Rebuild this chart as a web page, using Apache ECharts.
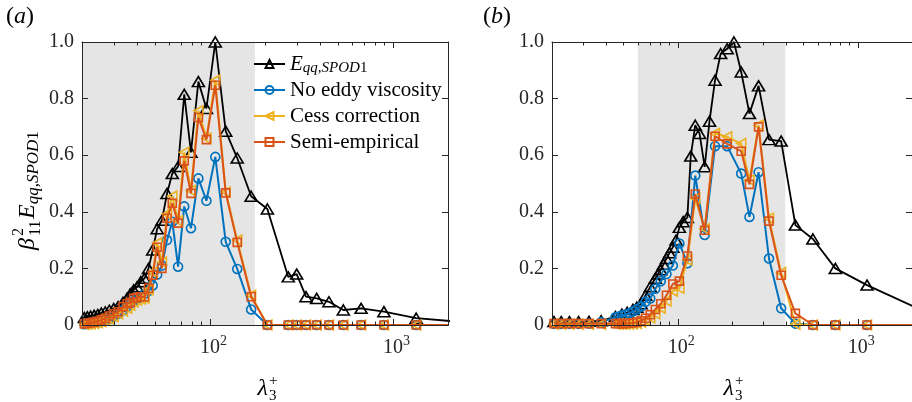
<!DOCTYPE html>
<html><head><meta charset="utf-8">
<script src="https://cdn.jsdelivr.net/npm/echarts@6/dist/echarts.min.js"></script>
<style>html,body{margin:0;padding:0;background:#fff}#c{width:912px;height:402px}</style>
</head><body><div id="c"></div>
<script>
// ---------------- data ----------------
// panel (a): wavelengths and values (all series share the same wavelengths)
const lamA = [2680, 1340, 893, 670, 536, 447, 383, 335, 298, 268, 206, 168, 141, 122, 107, 95.7, 86.5, 78.8, 72.4, 67.0, 62.3, 58.3, 54.7, 51.5, 48.7, 46.2, 43.9, 41.9, 40.0, 38.3, 36.7, 35.3, 33.5, 31.5, 29.8, 28.2, 26.8, 25.5, 24.4, 23.3, 22.3, 21.4, 20.6];
const eqqA = [0.008, 0.024, 0.047, 0.059, 0.053, 0.082, 0.094, 0.100, 0.180, 0.170, 0.410, 0.455, 0.590, 0.685, 1.000, 0.765, 0.860, 0.610, 0.815, 0.560, 0.535, 0.465, 0.370, 0.340, 0.265, 0.200, 0.165, 0.153, 0.135, 0.124, 0.110, 0.095, 0.080, 0.065, 0.058, 0.052, 0.046, 0.042, 0.037, 0.034, 0.031, 0.029, 0.026];
const noEddyA = [0, 0, 0, 0, 0, 0, 0, 0, 0, 0, 0, 0.055, 0.198, 0.294, 0.594, 0.439, 0.518, 0.342, 0.419, 0.206, 0.365, 0.300, 0.210, 0.178, 0.140, 0.120, 0.110, 0.100, 0.093, 0.085, 0.075, 0.065, 0.052, 0.040, 0.030, 0.022, 0.016, 0.012, 0.009, 0.007, 0.005, 0.004, 0.003];
const cessA = [0, 0, 0, 0, 0, 0, 0, 0, 0, 0, 0, 0.105, 0.300, 0.470, 0.865, 0.660, 0.757, 0.475, 0.610, 0.368, 0.455, 0.392, 0.222, 0.290, 0.187, 0.125, 0.095, 0.092, 0.088, 0.082, 0.070, 0.060, 0.050, 0.040, 0.030, 0.022, 0.016, 0.012, 0.008, 0.006, 0.004, 0.003, 0.002];
const semiA = [0, 0, 0, 0, 0, 0, 0, 0, 0, 0, 0, 0.100, 0.292, 0.467, 0.847, 0.655, 0.733, 0.465, 0.580, 0.360, 0.430, 0.377, 0.200, 0.275, 0.176, 0.130, 0.100, 0.100, 0.097, 0.094, 0.080, 0.075, 0.065, 0.047, 0.040, 0.032, 0.024, 0.018, 0.013, 0.010, 0.008, 0.006, 0.004];

// panel (b): SPOD wavelengths / values
const lamBk = [2250, 1125, 750, 563, 450, 375, 321, 281, 250, 225, 205, 188, 173, 161, 150, 141, 132, 125, 118, 113, 107, 102, 97.8, 93.8, 90.0, 86.5, 83.3, 80.4, 77.6, 75.0, 70.3, 66.2, 62.5, 59.2, 56.3, 52.3, 48.9, 45.0, 37.5, 32.1, 28.1, 25.0, 22.5, 20.5];
const eqqB = [0.053, 0.141, 0.200, 0.304, 0.353, 0.650, 0.655, 0.845, 0.747, 0.894, 1.000, 0.976, 0.959, 0.865, 0.720, 0.559, 0.677, 0.706, 0.597, 0.380, 0.365, 0.345, 0.300, 0.275, 0.255, 0.235, 0.215, 0.195, 0.180, 0.165, 0.135, 0.105, 0.075, 0.063, 0.055, 0.045, 0.038, 0.030, 0.015, 0.013, 0.012, 0.012, 0.012, 0.012];
// panel (b): model wavelengths / values
const lamBc = [2250, 1125, 750, 563, 450, 375, 321, 281, 250, 225, 188, 161, 141, 125, 113, 102, 93.8, 86.5, 80.4, 75.0, 70.3, 66.2, 62.5, 59.2, 56.3, 53.6, 51.1, 48.9, 46.9, 45.0, 37.5, 32.1, 28.1, 25.0, 22.5, 20.5];
const noEddyB = [0, 0, 0, 0, 0.005, 0.059, 0.235, 0.540, 0.382, 0.535, 0.632, 0.632, 0.318, 0.528, 0.218, 0.288, 0.210, 0.180, 0.155, 0.128, 0.094, 0.082, 0.065, 0.056, 0.048, 0.041, 0.037, 0.034, 0.030, 0.027, 0.010, 0.005, 0.004, 0.004, 0.004, 0.004];
const cessB = [0, 0, 0, 0, 0.003, 0.185, 0.377, 0.706, 0.512, 0.641, 0.665, 0.677, 0.340, 0.447, 0.230, 0.130, 0.120, 0.085, 0.060, 0.040, 0.026, 0.016, 0.010, 0.006, 0.004, 0.003, 0.003, 0.003, 0.003, 0.003, 0.003, 0.003, 0.003, 0.003, 0.003, 0.003];
const semiB = [0, 0, 0, 0, 0.041, 0.176, 0.367, 0.700, 0.497, 0.614, 0.640, 0.667, 0.335, 0.463, 0.244, 0.155, 0.145, 0.105, 0.075, 0.055, 0.036, 0.024, 0.015, 0.010, 0.007, 0.006, 0.005, 0.005, 0.005, 0.005, 0.005, 0.005, 0.005, 0.005, 0.005, 0.005];

// shaded ranges, axis ranges, ticks, names
const shadeA = [20, 176];
const shadeB = [60, 395];
const xRange = [20, 2000];
const yRange = [0, 1];
const yStep = 0.2;
const yTicks = [0, 0.2, 0.4, 0.6, 0.8, 1.0];
const yTickLabels = ['0', '0.2', '0.4', '0.6', '0.8', '1.0'];
const xMajor = [100, 1000];
const xMajorExp = ['2', '3'];
const xMinor = [20, 30, 40, 50, 60, 70, 80, 90, 200, 300, 400, 500, 600, 700, 800, 900, 2000];
const names = ['Eqq', 'No eddy viscosity', 'Cess correction', 'Semi-empirical'];

// ---------------- chart ----------------
const FONT = 'Liberation Serif';
const AX = '#262626';
const C = { k: '#000000', b: '#0072BD', y: '#EDB120', o: '#D95319' };
const zip = (xs, ys) => xs.map((x, i) => [x, ys[i]]);

const grids = [
  { left: 82, top: 42, width: 366, height: 283 },
  { left: 82, top: 42, width: 366, height: 283 },
  { left: 552, top: 42, width: 366, height: 283 },
  { left: 552, top: 42, width: 366, height: 283 }
];

function xAx(grid, pos, ticks, len, line) {
  return {
    type: 'log', logBase: 10, gridIndex: grid, min: xRange[0], max: xRange[1], position: pos, z: 10,
    axisLine: { show: line, onZero: false, lineStyle: { color: AX, width: 1 } },
    axisTick: { show: true, inside: true, length: len, customValues: ticks, lineStyle: { color: AX, width: 1 } },
    minorTick: { show: false }, splitLine: { show: false }, axisLabel: { show: false }
  };
}
function yAx(grid, pos, show) {
  return {
    type: 'value', gridIndex: grid, min: yRange[0], max: yRange[1], interval: yStep, position: pos, show: show, z: 10,
    axisLine: { show: true, lineStyle: { color: AX, width: 1 } },
    axisTick: { show: true, inside: true, length: 6, lineStyle: { color: AX, width: 1 } },
    splitLine: { show: false }, axisLabel: { show: false }
  };
}

const xAxis = [
  xAx(0, 'bottom', xMajor, 6, true), xAx(0, 'top', xMajor, 6, true),
  xAx(1, 'bottom', xMinor, 3.5, false), xAx(1, 'top', xMinor, 3.5, false),
  xAx(2, 'bottom', xMajor, 6, true), xAx(2, 'top', xMajor, 6, true),
  xAx(3, 'bottom', xMinor, 3.5, false), xAx(3, 'top', xMinor, 3.5, false)
];
const yAxis = [
  yAx(0, 'left', true), yAx(0, 'right', true), yAx(1, 'left', false),
  yAx(2, 'left', true), yAx(2, 'right', true), yAx(3, 'left', false)
];

const styles = [
  { c: C.k, sym: 'triangle', size: [12, 10], rot: 0, lw: 1.8, z: 3 },
  { c: C.b, sym: 'circle', size: 9, rot: 0, lw: 2, z: 4 },
  { c: C.y, sym: 'triangle', size: [10, 9], rot: 90, lw: 2, z: 5 },
  { c: C.o, sym: 'rect', size: 8, rot: 0, lw: 2, z: 6 }
];
function ser(k, xs, ys, xi, yi) {
  const s = styles[k];
  return {
    type: 'line', name: names[k], xAxisIndex: xi, yAxisIndex: yi, data: zip(xs, ys),
    symbol: s.sym, symbolSize: s.size, symbolRotate: s.rot, showSymbol: true, showAllSymbol: true,
    lineStyle: { color: s.c, width: s.lw }, itemStyle: { color: 'rgba(0,0,0,0)', borderColor: s.c, borderWidth: 1.6 },
    emphasis: { disabled: true }, clip: true, z: s.z, animation: false
  };
}
function shade(range, xi, yi) {
  return { type: 'line', xAxisIndex: xi, yAxisIndex: yi, data: [], z: 1, silent: true,
    markArea: { silent: true, itemStyle: { color: '#e5e5e5' }, data: [[{ xAxis: range[0] }, { xAxis: range[1] }]] } };
}

const series = [
  shade(shadeA, 0, 0),
  ser(0, lamA, eqqA, 0, 0), ser(1, lamA, noEddyA, 0, 0), ser(2, lamA, cessA, 0, 0), ser(3, lamA, semiA, 0, 0),
  shade(shadeB, 4, 3),
  ser(0, lamBk, eqqB, 4, 3), ser(1, lamBc, noEddyB, 4, 3), ser(2, lamBc, cessB, 4, 3), ser(3, lamBc, semiB, 4, 3)
];

const txt = (extra) => Object.assign({ fontFamily: FONT, fill: '#000' }, extra);
function lambdaLabel(cx) {
  return { type: 'group', x: cx, y: 389, children: [
    { type: 'text', x: 0, y: 0, style: txt({ text: 'λ', fontSize: 24, fontStyle: 'italic', align: 'right', textAlign: 'right', verticalAlign: 'middle', textVerticalAlign: 'middle' }) },
    { type: 'text', x: 1, y: -8, style: txt({ text: '+', fontSize: 15, align: 'left', textAlign: 'left', verticalAlign: 'middle', textVerticalAlign: 'middle' }) },
    { type: 'text', x: 1, y: 7, style: txt({ text: '3', fontSize: 15, align: 'left', textAlign: 'left', verticalAlign: 'middle', textVerticalAlign: 'middle' }) }
  ] };
}

const graphicStatic = [
  { type: 'text', x: 6, y: 17, style: txt({ text: '({i|a})', fontSize: 24, verticalAlign: 'middle', textVerticalAlign: 'middle', rich: { i: { fontStyle: 'italic', fontSize: 24, fontFamily: FONT } } }) },
  { type: 'text', x: 483, y: 17, style: txt({ text: '({i|b})', fontSize: 24, verticalAlign: 'middle', textVerticalAlign: 'middle', rich: { i: { fontStyle: 'italic', fontSize: 24, fontFamily: FONT } } }) },
  lambdaLabel(268), lambdaLabel(734),
  { type: 'group', x: 28, y: 250, rotation: Math.PI / 2, children: [
    { type: 'text', x: 0, y: 0, style: txt({ text: 'β', fontSize: 24, fontStyle: 'italic', verticalAlign: 'middle', textVerticalAlign: 'middle' }) },
    { type: 'text', x: 14, y: -9, style: txt({ text: '2', fontSize: 16, verticalAlign: 'middle', textVerticalAlign: 'middle' }) },
    { type: 'text', x: 14, y: 8, style: txt({ text: '11', fontSize: 16, verticalAlign: 'middle', textVerticalAlign: 'middle' }) },
    { type: 'text', x: 31, y: 0, style: txt({ text: '{e|E}{s|qq,SPOD}{r|1}', verticalAlign: 'middle', textVerticalAlign: 'middle',
      rich: { e: { fontStyle: 'italic', fontSize: 24, fontFamily: FONT }, s: { fontStyle: 'italic', fontSize: 17, fontFamily: FONT, padding: [12, 0, 0, 0] }, r: { fontSize: 17, fontFamily: FONT, padding: [12, 0, 0, 0] } } }) }
  ] }
];

const chart = echarts.init(document.getElementById('c'), null, { renderer: 'canvas' });
chart.setOption({
  animation: false,
  backgroundColor: '#fff',
  textStyle: { fontFamily: FONT },
  grid: grids,
  xAxis, yAxis, series,
  legend: {
    show: true, data: names, orient: 'vertical', left: 253, top: 52, padding: 0, itemGap: 2,
    itemWidth: 31, itemHeight: 10, selectedMode: false,
    formatter: n => (n === 'Eqq' ? '{e|E}{s|qq,SPOD}{r|1}' : n),
    textStyle: { fontFamily: FONT, fontSize: 21, color: '#000', lineHeight: 24,
      rich: { e: { fontStyle: 'italic', fontSize: 21, fontFamily: FONT, lineHeight: 24 },
              s: { fontStyle: 'italic', fontSize: 15, fontFamily: FONT, padding: [9, 0, 0, 0] },
              r: { fontSize: 15, fontFamily: FONT, padding: [9, 0, 0, 0] } } }
  }
});

// tick labels placed through the chart's own axis scales
const tickLabels = [];
[[0, 0], [4, 3]].forEach(([xi, yi]) => {
  const finder = { xAxisIndex: xi, yAxisIndex: yi };
  yTicks.forEach((v, i) => {
    const p = chart.convertToPixel(finder, [xRange[0], v]);
    tickLabels.push({ type: 'text', x: p[0] - 8, y: p[1], z: 20,
      style: txt({ text: yTickLabels[i], fontSize: 20, fill: AX, align: 'right', textAlign: 'right', verticalAlign: 'middle', textVerticalAlign: 'middle' }) });
  });
  xMajor.forEach((v, i) => {
    const p = chart.convertToPixel(finder, [v, yRange[0]]);
    tickLabels.push({ type: 'text', x: p[0] - 10, y: p[1] + 23, z: 20,
      style: txt({ text: '10', fontSize: 20, fill: AX, align: 'left', textAlign: 'left', verticalAlign: 'middle', textVerticalAlign: 'middle' }) });
    tickLabels.push({ type: 'text', x: p[0] + 10, y: p[1] + 16, z: 20,
      style: txt({ text: xMajorExp[i], fontSize: 14, fill: AX, align: 'left', textAlign: 'left', verticalAlign: 'middle', textVerticalAlign: 'middle' }) });
  });
});
chart.setOption({ graphic: graphicStatic.concat(tickLabels) });
</script></body></html>
